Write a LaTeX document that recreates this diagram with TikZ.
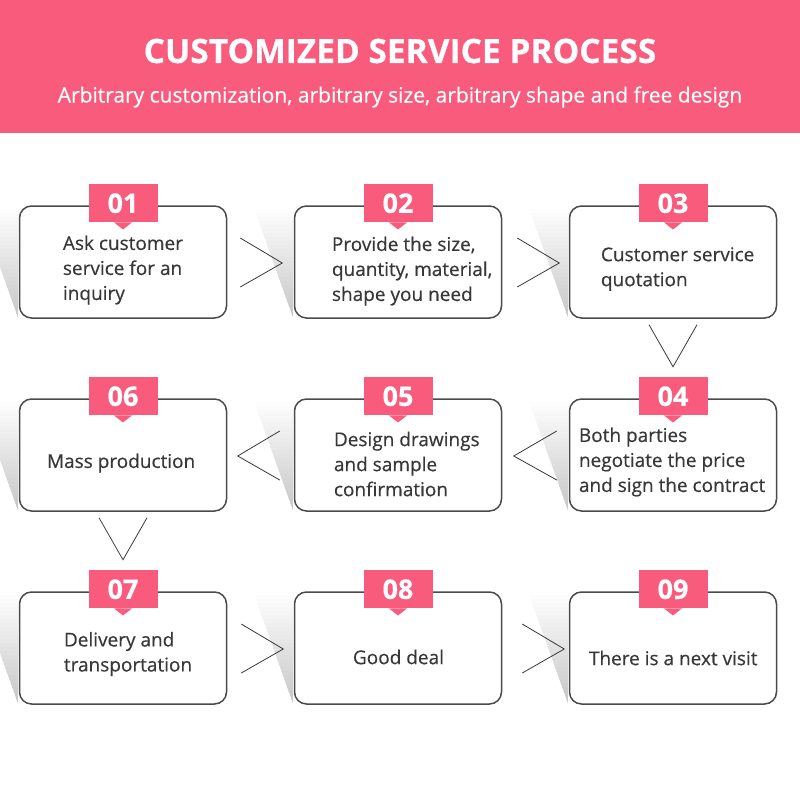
\documentclass[tikz,border=0pt]{standalone}
\usepackage{fontspec}
\setmainfont{Open Sans}[FakeBold=0.4]
\usetikzlibrary{positioning}
\definecolor{rose}{HTML}{F95B7D}
\definecolor{ink}{HTML}{383838}
\definecolor{frame}{HTML}{4A4A4A}
\begin{document}
\begin{tikzpicture}[x=1pt,y=-1pt,node distance=193pt and 275pt,on grid,
   stepbox/.style={draw=frame,line width=1.5pt,rounded corners=12pt,fill=white,
                   minimum width=207pt,minimum height=112pt},
   txt/.style={text=ink,align=left,anchor=west,inner sep=0pt,
               font=\fontsize{19}{25}\selectfont},
   tab/.style={fill=rose,text=white,minimum width=69pt,minimum height=38pt,
               inner sep=0pt,font=\fontsize{27}{27}\selectfont\bfseries},
   chev/.style={draw=ink,line width=0.8pt}]
   \clip (0,0) rectangle (800,800);
   \fill[white] (0,0) rectangle (800,800);
   % header
   \fill[rose] (0,0) rectangle (800,133);
   \node[text=white,font=\fontsize{33.5}{34}\selectfont\bfseries] (title) at (400,51) {CUSTOMIZED SERVICE PROCESS};
   \node[text=white,font=\fontsize{21}{21}\selectfont] (subtitle) at (400,97) {Arbitrary customization, arbitrary size, arbitrary shape and free design};
   % steps
   \node[stepbox] (s1) at (123,262) {};
   \node[stepbox] (s2) [right=of s1] {};
   \node[stepbox] (s3) [right=of s2] {};
   \node[stepbox] (s4) [below=of s3] {};
   \node[stepbox] (s5) [left=of s4] {};
   \node[stepbox] (s6) [left=of s5] {};
   \node[stepbox] (s7) [below=of s6] {};
   \node[stepbox] (s8) [right=of s7] {};
   \node[stepbox] (s9) [right=of s8] {};
   % shadows
   \foreach \s in {s1,s2,s3,s4,s5,s6,s7,s8,s9} {
      \begin{scope}
         \clip ([shift={(-40,2)}]\s.north west) -- ([shift={(-1,2)}]\s.north west)
            -- ([shift={(-1,-2)}]\s.south west) -- cycle;
         \foreach \k [evaluate=\k as \g using 0.8*\k] in {0,...,27}
            \fill[black!\g] ([shift={(-42,{4*\k})}]\s.north west) rectangle ([shift={(0,{4*\k+4.5})}]\s.north west);
      \end{scope}
   }
   % number tabs
   \foreach \s/\n in {s1/01,s2/02,s3/03,s4/04,s5/05,s6/06,s7/07,s8/08,s9/09} {
      \node[tab] (n\n) at ([yshift=2pt]\s.north) {\n};
      \fill[rose] ([xshift=-9pt]n\n.south) -- ([xshift=9pt]n\n.south) -- ([yshift=-7pt]n\n.south) -- cycle;
   }
   % texts
   \node[txt] (t1) at ([shift={(44,8)}]s1.west) {Ask customer\\service for an\\inquiry};
   \node[txt] (t2) at ([shift={(38,9)}]s2.west) {Provide the size,\\quantity, material,\\shape you need};
   \node[txt] (t3) at ([shift={(32,7)}]s3.west) {Customer service\\quotation};
   \node[txt] (t4) at ([shift={(10,7)}]s4.west) {Both parties\\negotiate the price\\and sign the contract};
   \node[txt] (t5) at ([shift={(40,9)}]s5.west) {Design drawings\\and sample\\confirmation};
   \node[txt] (t6) at ([shift={(28,8)}]s6.west) {Mass production};
   \node[txt] (t7) at ([shift={(45,6)}]s7.west) {Delivery and\\transportation};
   \node[txt] (t8) at ([shift={(59,9)}]s8.west) {Good deal};
   \node[txt] (t9) at ([shift={(20,10)}]s9.west) {There is a next visit};
   % chevrons
   \foreach \s/\a/\b in {s1/13/55,s2/15/57,s7/14/56,s8/20/62}
      \draw[chev] ([shift={(\a,-24)}]\s.east) -- ([shift={(\b,1)}]\s.east) -- ([shift={(\a,25)}]\s.east);
   \foreach \s/\a/\b in {s4/12/55,s5/14/56}
      \draw[chev] ([shift={(-\a,-24)}]\s.west) -- ([shift={(-\b,1)}]\s.west) -- ([shift={(-\a,25)}]\s.west);
   \foreach \s in {s3,s6}
      \draw[chev] ([shift={(-24,6)}]\s.south) -- ([shift={(0,48)}]\s.south) -- ([shift={(24,6)}]\s.south);
\end{tikzpicture}
\end{document}
